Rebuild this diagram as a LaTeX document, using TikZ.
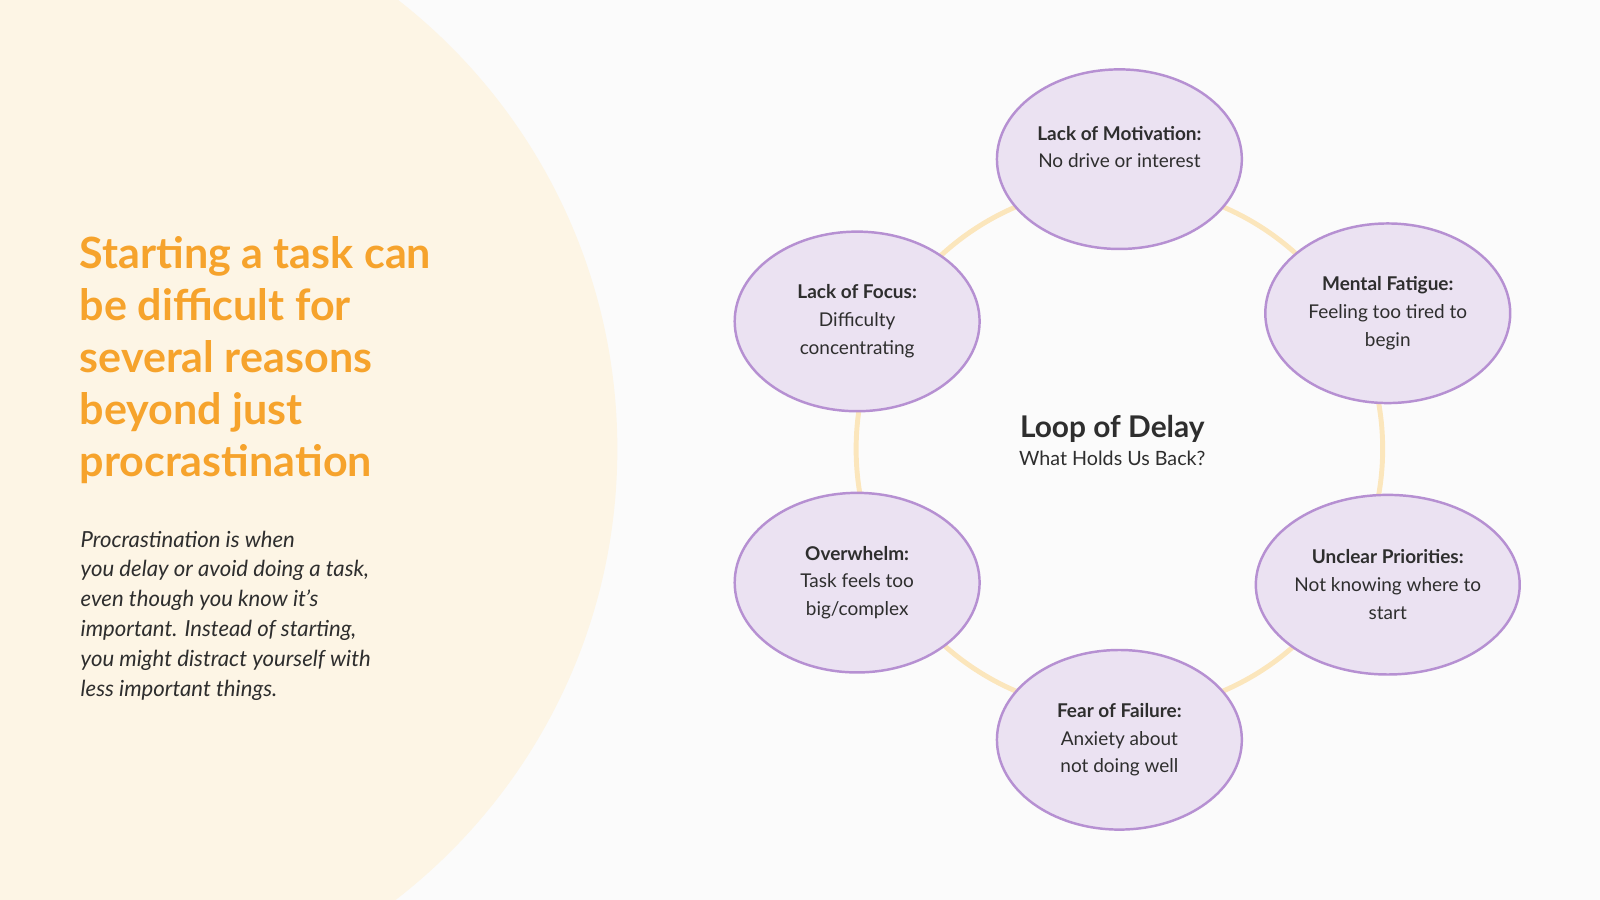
\documentclass[tikz,border=0pt]{standalone}
\usepackage{fontspec}
\setmainfont{Lato}
\usetikzlibrary{shapes.geometric}
\definecolor{bg}{HTML}{FBFBFB}
\definecolor{cream}{HTML}{FDF5E5}
\definecolor{orng}{HTML}{F6A32C}
\definecolor{ring}{HTML}{FBE6BC}
\definecolor{efill}{HTML}{EBE2F2}
\definecolor{edraw}{HTML}{B690D2}
\definecolor{txt}{HTML}{2E2E2E}
\begin{document}
\begin{tikzpicture}[x=0.0204cm,y=-0.0204cm,
  cause/.style={ellipse,fill=efill,draw=edraw,line width=1.4pt,minimum width=240*0.0204cm,minimum height=176*0.0204cm,inner sep=0pt,align=center,font=\fontsize{10.8}{15.8}\selectfont,text=txt}]
\useasboundingbox (0,0) rectangle (1568,882);
\fill[bg] (0,0) rectangle (1568,882);
\begin{scope}
\clip (0,0) rectangle (1568,882);
\fill[cream] (47,440) circle[radius=558*0.0204cm];
\end{scope}
\node[anchor=north west,align=left,text=orng,font=\fontsize{24.5}{29.5}\selectfont\bfseries] (title) at (72,226)
{Starting a task can\\be difficult for\\several reasons\\beyond just\\procrastination};
\node[anchor=north west,align=left,text=txt,font=\fontsize{12.6}{17}\selectfont\itshape] (desc) at (73,514)
{Procrastination is when\\you delay or avoid doing a task,\\even though you know it's\\important. Instead of starting,\\you might distract yourself with\\less important things.};
\draw[ring,line width=2.8pt] (1097,440) circle[radius=258*0.0204cm];
\node[align=center,text=txt] (center) at (1090,432) {{\fontsize{17}{20}\selectfont\bfseries Loop of Delay}\\[4pt]{\fontsize{11.2}{14}\selectfont What Holds Us Back?}};
\node[cause] (mot) at (1097,156) {\textbf{Lack of Motivation:}\\No drive or interest\\[-2pt]\mbox{}};
\node[cause] (fat) at (1360,307) {\textbf{Mental Fatigue:}\\Feeling too tired to\\begin};
\node[cause] (pri) at (1360,573) {\textbf{Unclear Priorities:}\\Not knowing where to\\start};
\node[cause] (fear) at (1097,725) {\textbf{Fear of Failure:}\\Anxiety about\\not doing well};
\node[cause] (ovw) at (840,571) {\textbf{Overwhelm:}\\Task feels too\\big/complex};
\node[cause] (foc) at (840,315) {\textbf{Lack of Focus:}\\Difficulty\\concentrating};
\end{tikzpicture}
\end{document}
